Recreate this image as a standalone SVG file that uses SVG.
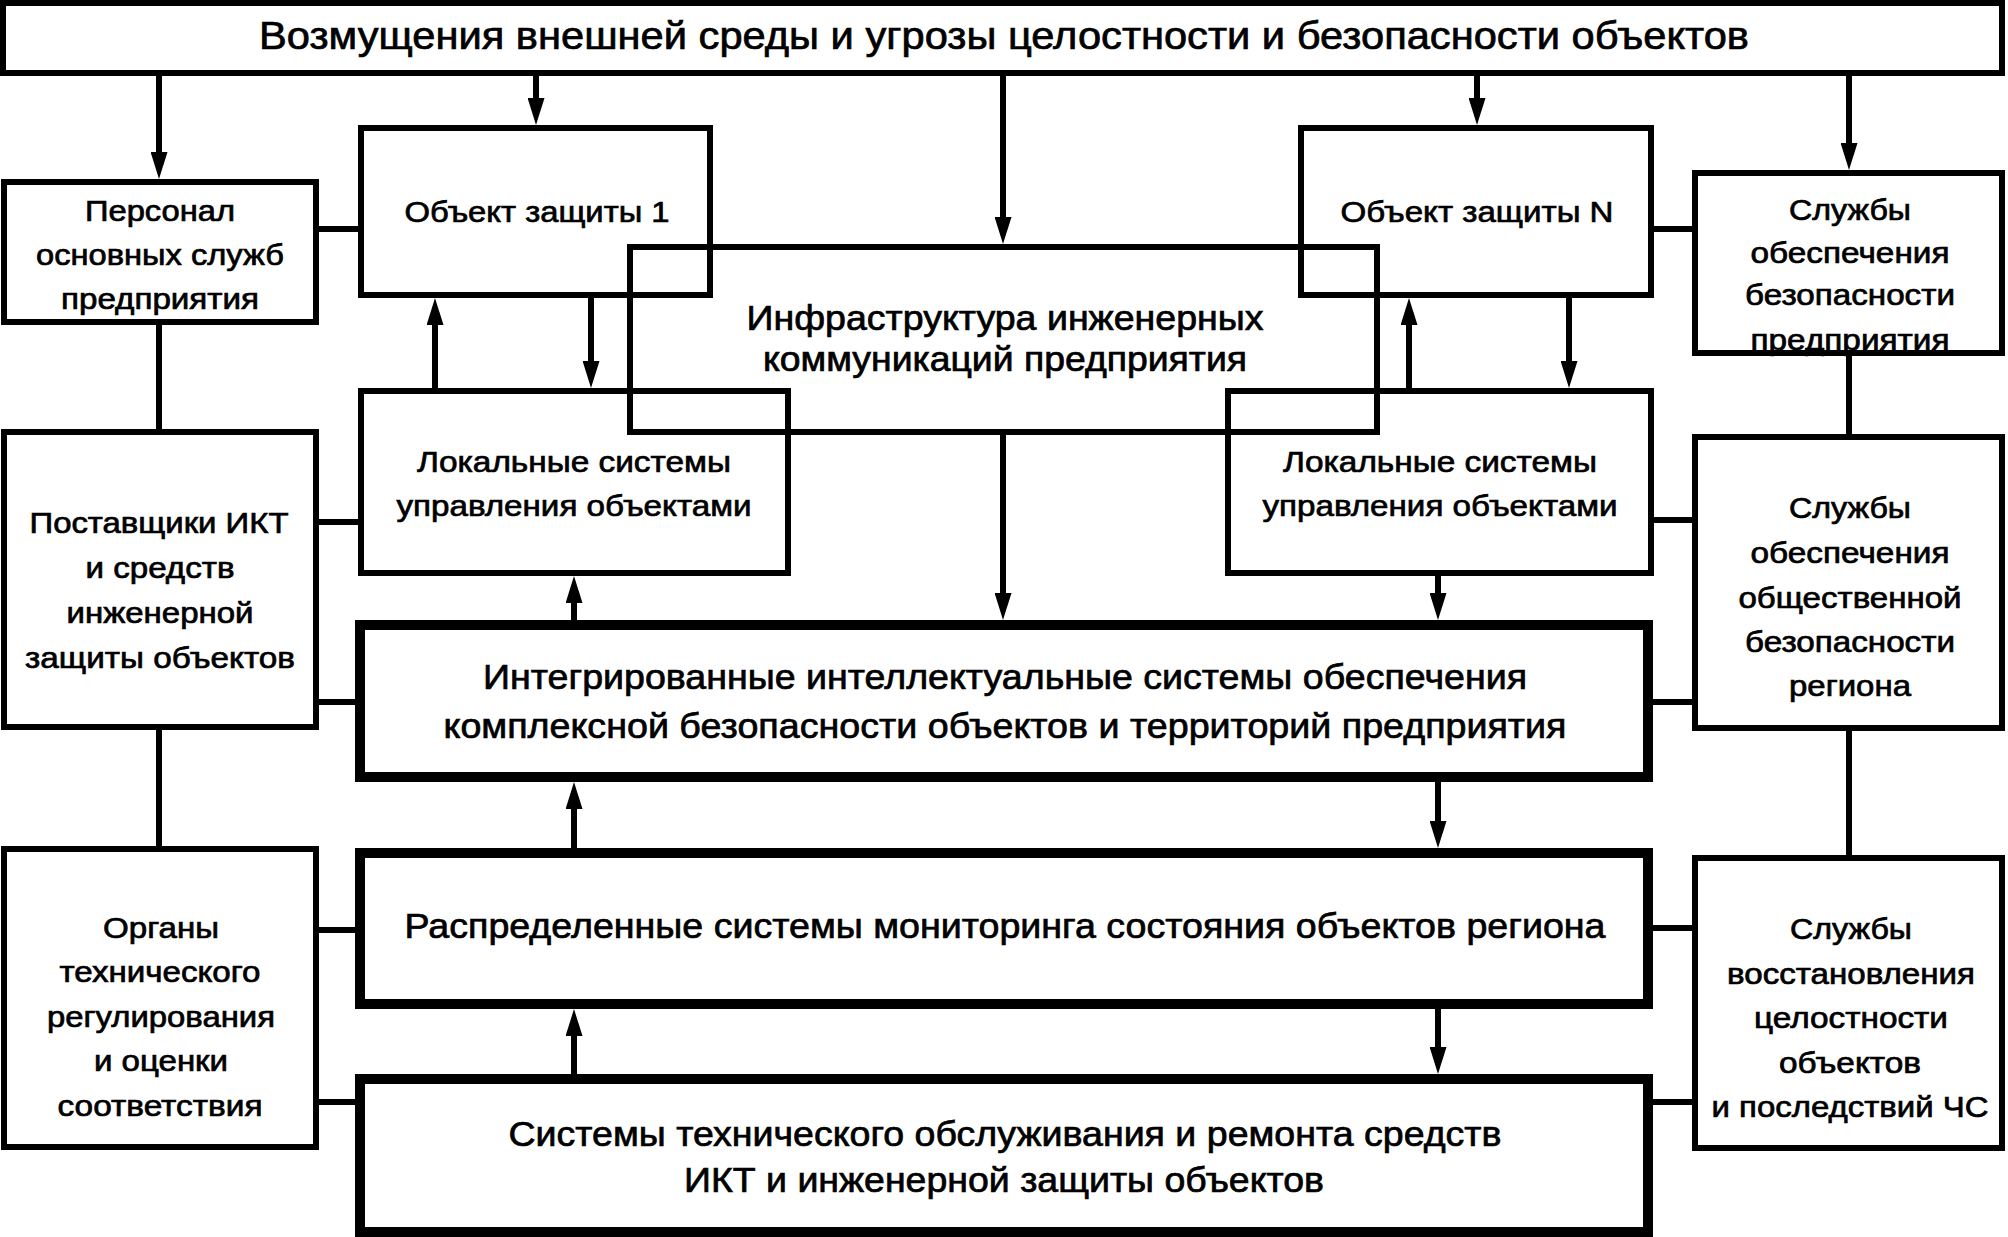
<svg xmlns="http://www.w3.org/2000/svg" width="2008" height="1237" viewBox="0 0 2008 1237">
<style>
.b{fill:none;stroke:#000;stroke-width:6}
.k{fill:none;stroke:#000;stroke-width:10}
.c{fill:none;stroke:#000;stroke-width:6}
.a{marker-end:url(#ah)}
text{font-family:"Liberation Sans",Arial,sans-serif;fill:#000;stroke:#000;stroke-width:0.7;text-anchor:middle}
.t0{font-size:38px}
.t1{font-size:35px}
.t2{font-size:30px}
.t3{font-size:29px}
</style>
<defs>
<marker id="ah" markerUnits="userSpaceOnUse" markerWidth="27" markerHeight="17" refX="1" refY="8.5" orient="auto"><path d="M0,0 L27,8.5 L0,17 z" fill="#000"/></marker>
</defs>
<rect x="0" y="0" width="2008" height="1237" fill="#fff"/>
<g id="connectors">
<path class="c a" d="M159,76 V153"/>
<path class="c a" d="M536,76 V99"/>
<path class="c a" d="M1003,76 V218"/>
<path class="c a" d="M1477,76 V99"/>
<path class="c a" d="M1849,76 V144"/>
<path class="c a" d="M435,388 V324"/>
<path class="c a" d="M591,298 V362"/>
<path class="c a" d="M1409,388 V324"/>
<path class="c a" d="M1569,298 V362"/>
<path class="c a" d="M1003,435 V594"/>
<path class="c a" d="M574,620 V602"/>
<path class="c a" d="M1438,576 V594"/>
<path class="c a" d="M574,848 V808"/>
<path class="c a" d="M1438,782 V822"/>
<path class="c a" d="M574,1074 V1035"/>
<path class="c a" d="M1438,1009 V1048"/>
<path class="c" d="M316,229 H361"/>
<path class="c" d="M1651,229 H1695"/>
<path class="c" d="M159,322 V432"/>
<path class="c" d="M1849,353 V437"/>
<path class="c" d="M316,522 H361"/>
<path class="c" d="M316,702 H360"/>
<path class="c" d="M1651,520 H1695"/>
<path class="c" d="M1648,702 H1695"/>
<path class="c" d="M159,727 V849"/>
<path class="c" d="M1849,728 V858"/>
<path class="c" d="M316,930 H360"/>
<path class="c" d="M316,1102 H360"/>
<path class="c" d="M1648,928 H1695"/>
<path class="c" d="M1648,1102 H1695"/>
</g>
<g id="n-top">
<rect class="b" x="3" y="3" width="1999" height="70"/>
<text class="t0" x="1004" y="49" textLength="1490" lengthAdjust="spacingAndGlyphs">Возмущения внешней среды и угрозы целостности и безопасности объектов</text>
</g>
<g id="n-personal">
<rect class="b" x="4" y="182" width="312" height="140"/>
<text class="t3" x="160" y="221" textLength="150" lengthAdjust="spacingAndGlyphs">Персонал</text>
<text class="t3" x="160" y="265" textLength="248" lengthAdjust="spacingAndGlyphs">основных служб</text>
<text class="t3" x="160" y="309" textLength="198" lengthAdjust="spacingAndGlyphs">предприятия</text>
</g>
<g id="n-obj1">
<rect class="b" x="361" y="128" width="349" height="167"/>
<text class="t2" x="537" y="222" textLength="265" lengthAdjust="spacingAndGlyphs">Объект защиты 1</text>
</g>
<g id="n-infra">
<rect class="b" x="630" y="247" width="747" height="185"/>
<text class="t1" x="1005" y="330" textLength="517" lengthAdjust="spacingAndGlyphs">Инфраструктура инженерных</text>
<text class="t1" x="1005" y="371" textLength="484" lengthAdjust="spacingAndGlyphs">коммуникаций предприятия</text>
</g>
<g id="n-objN">
<rect class="b" x="1301" y="128" width="350" height="167"/>
<text class="t2" x="1477" y="222" textLength="273" lengthAdjust="spacingAndGlyphs">Объект защиты N</text>
</g>
<g id="n-sec-ent">
<rect class="b" x="1695" y="173" width="307" height="180"/>
<text class="t3" x="1850" y="220" textLength="122" lengthAdjust="spacingAndGlyphs">Службы</text>
<text class="t3" x="1850" y="263" textLength="199" lengthAdjust="spacingAndGlyphs">обеспечения</text>
<text class="t3" x="1850" y="305" textLength="210" lengthAdjust="spacingAndGlyphs">безопасности</text>
<text class="t3" x="1850" y="350" textLength="199" lengthAdjust="spacingAndGlyphs">предприятия</text>
</g>
<g id="n-suppliers">
<rect class="b" x="4" y="432" width="312" height="295"/>
<text class="t3" x="159" y="533" textLength="259" lengthAdjust="spacingAndGlyphs">Поставщики ИКТ</text>
<text class="t3" x="160" y="578" textLength="149" lengthAdjust="spacingAndGlyphs">и средств</text>
<text class="t3" x="160" y="623" textLength="187" lengthAdjust="spacingAndGlyphs">инженерной</text>
<text class="t3" x="160" y="668" textLength="270" lengthAdjust="spacingAndGlyphs">защиты объектов</text>
</g>
<g id="n-local1">
<rect class="b" x="361" y="391" width="427" height="182"/>
<text class="t2" x="574" y="472" textLength="314" lengthAdjust="spacingAndGlyphs">Локальные системы</text>
<text class="t2" x="574" y="516" textLength="355" lengthAdjust="spacingAndGlyphs">управления объектами</text>
</g>
<g id="n-localN">
<rect class="b" x="1228" y="391" width="423" height="182"/>
<text class="t2" x="1440" y="472" textLength="314" lengthAdjust="spacingAndGlyphs">Локальные системы</text>
<text class="t2" x="1440" y="516" textLength="355" lengthAdjust="spacingAndGlyphs">управления объектами</text>
</g>
<g id="n-sec-pub">
<rect class="b" x="1695" y="437" width="307" height="291"/>
<text class="t3" x="1850" y="518" textLength="122" lengthAdjust="spacingAndGlyphs">Службы</text>
<text class="t3" x="1850" y="563" textLength="199" lengthAdjust="spacingAndGlyphs">обеспечения</text>
<text class="t3" x="1850" y="608" textLength="223" lengthAdjust="spacingAndGlyphs">общественной</text>
<text class="t3" x="1850" y="652" textLength="210" lengthAdjust="spacingAndGlyphs">безопасности</text>
<text class="t3" x="1850" y="696" textLength="122" lengthAdjust="spacingAndGlyphs">региона</text>
</g>
<g id="n-integrated">
<rect class="k" x="360" y="625" width="1288" height="152"/>
<text class="t1" x="1005" y="689" textLength="1044" lengthAdjust="spacingAndGlyphs">Интегрированные интеллектуальные системы обеспечения</text>
<text class="t1" x="1005" y="738" textLength="1123" lengthAdjust="spacingAndGlyphs">комплексной безопасности объектов и территорий предприятия</text>
</g>
<g id="n-organs">
<rect class="b" x="4" y="849" width="312" height="298"/>
<text class="t3" x="161" y="938" textLength="116" lengthAdjust="spacingAndGlyphs">Органы</text>
<text class="t3" x="160" y="982" textLength="201" lengthAdjust="spacingAndGlyphs">технического</text>
<text class="t3" x="161" y="1027" textLength="228" lengthAdjust="spacingAndGlyphs">регулирования</text>
<text class="t3" x="161" y="1071" textLength="134" lengthAdjust="spacingAndGlyphs">и оценки</text>
<text class="t3" x="160" y="1116" textLength="205" lengthAdjust="spacingAndGlyphs">соответствия</text>
</g>
<g id="n-monitoring">
<rect class="k" x="360" y="853" width="1288" height="151"/>
<text class="t1" x="1005" y="938" textLength="1201" lengthAdjust="spacingAndGlyphs">Распределенные системы мониторинга состояния объектов региона</text>
</g>
<g id="n-maint">
<rect class="k" x="360" y="1079" width="1288" height="153"/>
<text class="t1" x="1005" y="1146" textLength="993" lengthAdjust="spacingAndGlyphs">Системы технического обслуживания и ремонта средств</text>
<text class="t1" x="1004" y="1192" textLength="640" lengthAdjust="spacingAndGlyphs">ИКТ и инженерной защиты объектов</text>
</g>
<g id="n-restore">
<rect class="b" x="1695" y="858" width="307" height="290"/>
<text class="t3" x="1851" y="939" textLength="122" lengthAdjust="spacingAndGlyphs">Службы</text>
<text class="t3" x="1851" y="984" textLength="248" lengthAdjust="spacingAndGlyphs">восстановления</text>
<text class="t3" x="1851" y="1028" textLength="194" lengthAdjust="spacingAndGlyphs">целостности</text>
<text class="t3" x="1850" y="1073" textLength="142" lengthAdjust="spacingAndGlyphs">объектов</text>
<text class="t3" x="1850" y="1117" textLength="277" lengthAdjust="spacingAndGlyphs">и последствий ЧС</text>
</g>
</svg>
